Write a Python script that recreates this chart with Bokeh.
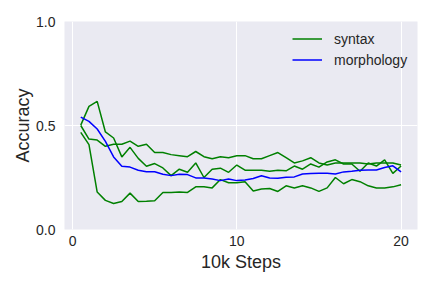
from bokeh.plotting import figure
from bokeh.models import Range1d, FixedTicker, Legend, LegendItem
from bokeh.embed import file_html
from bokeh.resources import INLINE

steps = [0.5, 1.0, 1.5, 2.0, 2.5, 3.0, 3.5, 4.0, 4.5, 5.0,
         5.5, 6.0, 6.5, 7.0, 7.5, 8.0, 8.5, 9.0, 9.5, 10.0,
         10.5, 11.0, 11.5, 12.0, 12.5, 13.0, 13.5, 14.0, 14.5, 15.0,
         15.5, 16.0, 16.5, 17.0, 17.5, 18.0, 18.5, 19.0, 19.5, 20.0]

syntax_a = [0.502, 0.592, 0.616, 0.469, 0.44, 0.349, 0.395, 0.342, 0.304, 0.317,
            0.296, 0.259, 0.29, 0.275, 0.32, 0.25, 0.29, 0.295, 0.275, 0.31,
            0.285, 0.285, 0.285, 0.28, 0.285, 0.282, 0.305, 0.29, 0.315, 0.30,
            0.325, 0.335, 0.315, 0.315, 0.28, 0.32, 0.305, 0.335, 0.27, 0.305]

syntax_b = [0.467, 0.408, 0.18, 0.14, 0.125, 0.135, 0.175, 0.135, 0.136, 0.138,
            0.178, 0.178, 0.18, 0.178, 0.205, 0.205, 0.20, 0.24, 0.225, 0.225,
            0.23, 0.185, 0.195, 0.197, 0.183, 0.21, 0.20, 0.21, 0.20, 0.183,
            0.20, 0.25, 0.22, 0.24, 0.23, 0.21, 0.20, 0.20, 0.205, 0.215]

syntax_c = [0.50, 0.435, 0.43, 0.40, 0.41, 0.41, 0.425, 0.40, 0.41, 0.37,
            0.37, 0.36, 0.355, 0.35, 0.375, 0.35, 0.34, 0.35, 0.345, 0.355,
            0.355, 0.34, 0.34, 0.355, 0.37, 0.345, 0.32, 0.33, 0.345, 0.32,
            0.31, 0.32, 0.32, 0.32, 0.32, 0.315, 0.32, 0.32, 0.32, 0.31]

morphology = [0.54, 0.52, 0.483, 0.424, 0.349, 0.304, 0.30, 0.285, 0.278, 0.278,
              0.266, 0.259, 0.266, 0.264, 0.248, 0.248, 0.243, 0.235, 0.243, 0.235,
              0.238, 0.245, 0.258, 0.248, 0.246, 0.251, 0.253, 0.267, 0.269, 0.27,
              0.27, 0.267, 0.277, 0.28, 0.285, 0.286, 0.286, 0.298, 0.306, 0.277]

x_ticks = [0, 10, 20]
y_ticks = [0.0, 0.5, 1.0]
y_tick_labels = {0.0: "0.0", 0.5: "0.5", 1.0: "1.0"}

FONT = "Liberation Sans"
TXT = "#262626"

p = figure(frame_width=353, frame_height=208, output_backend="svg", toolbar_location=None,
           x_range=Range1d(-0.49, 21.0), y_range=Range1d(0.0, 1.0),
           min_border_left=64, min_border_right=10, min_border_top=21, min_border_bottom=45,
           border_fill_color="white")
p.background_fill_color = "#EAEAF2"
p.outline_line_color = None

for ax in (p.xaxis[0], p.yaxis[0]):
    ax.axis_line_color = None
    ax.major_tick_line_color = None
    ax.minor_tick_line_color = None
    ax.major_tick_out = 0
    ax.major_tick_in = 0
    ax.minor_tick_out = 0
    ax.major_label_text_font = FONT
    ax.major_label_text_font_size = "14px"
    ax.major_label_text_color = TXT
    ax.axis_label_text_font = FONT
    ax.axis_label_text_font_size = "18px"
    ax.axis_label_text_font_style = "normal"
    ax.axis_label_text_color = TXT

p.xaxis.ticker = FixedTicker(ticks=x_ticks)
p.yaxis.ticker = FixedTicker(ticks=y_ticks)
p.yaxis.major_label_overrides = y_tick_labels
p.xaxis.axis_label = "10k Steps"
p.yaxis.axis_label = "Accuracy"
p.xaxis.major_label_standoff = 6
p.yaxis.major_label_standoff = 9
p.xaxis.axis_label_standoff = 3
p.yaxis.axis_label_standoff = 0

p.xgrid.grid_line_color = "white"
p.ygrid.grid_line_color = "white"
p.xgrid.grid_line_width = 1
p.ygrid.grid_line_width = 1

ra = p.line(steps, syntax_a, line_color="green", line_width=1.5)
rb = p.line(steps, syntax_b, line_color="green", line_width=1.5)
rc = p.line(steps, syntax_c, line_color="green", line_width=1.5)
rm = p.line(steps, morphology, line_color="blue", line_width=1.5)

legend = Legend(items=[LegendItem(label="syntax", renderers=[ra]),
                       LegendItem(label="morphology", renderers=[rm])],
                location=(228, 159))
legend.background_fill_alpha = 0
legend.border_line_color = None
legend.label_text_font = FONT
legend.label_text_font_size = "14px"
legend.label_text_color = TXT
legend.glyph_width = 30
legend.glyph_height = 21
legend.label_height = 21
legend.label_standoff = 12
legend.spacing = 0
legend.padding = 6
legend.margin = 0
p.add_layout(legend, "center")

open("out.html", "w").write(file_html(p, INLINE))
